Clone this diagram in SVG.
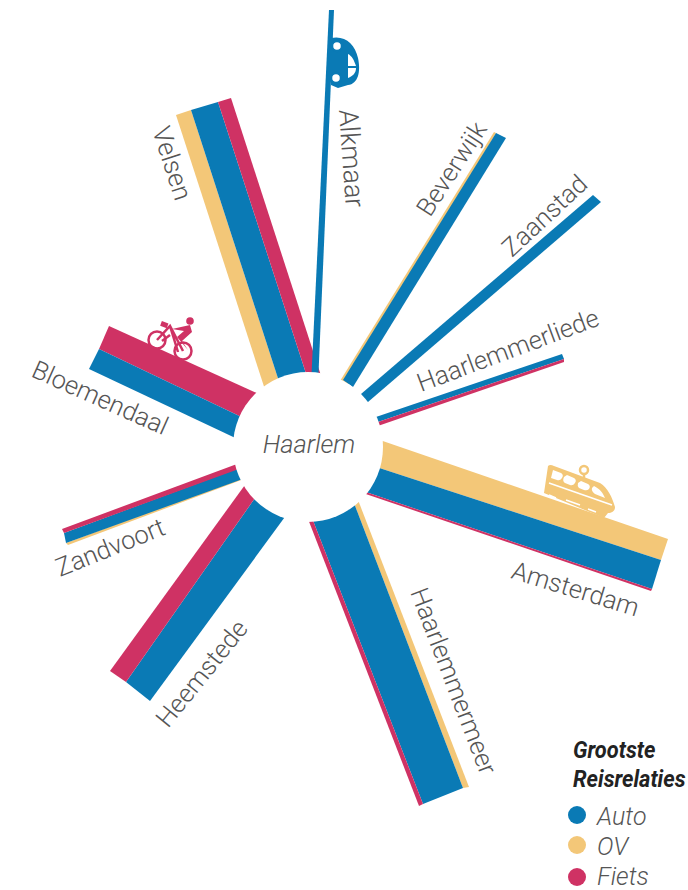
<svg xmlns="http://www.w3.org/2000/svg" width="688" height="890" viewBox="0 0 688 890">
<style>
.a{fill:#0a7ab5}.o{fill:#f3c778}.f{fill:#cf3264}
text{font-family:Roboto,"Liberation Sans",sans-serif;font-weight:300;fill:#555}
.l{font-size:25.5px}
.i{font-style:italic}
.t{font-weight:700;fill:#222;font-size:23px}
.k{font-size:25px}
</style>
<rect width="688" height="890" fill="#fff"/>
<g id="connectors">
<polygon class="o" points="176,115 191,110 285,400 270,405"/>
<polygon class="a" points="191,110 218,102 312,392 285,400"/>
<polygon class="f" points="218,102 231,98 325,388 312,392"/>
<polygon class="a" points="329,10 334,10 318,385 311,385"/>
<polygon class="o" points="494,132 496,133 347,386 340,381"/>
<polygon class="a" points="496,133 506,138 353,387 343,380"/>
<polygon class="a" points="593,195 601,202 361,408 354,400"/>
<polygon class="a" points="562,354 564,359 372,424 370,419"/>
<polygon class="f" points="564,359 564,362 372,428 372,424"/>
<polygon class="o" points="668,539 661,560 364,463 374,438"/>
<polygon class="a" points="661,560 652,589 354,488 364,463"/>
<polygon class="f" points="652,589 651,591 354,490 354,488"/>
<polygon class="o" points="469,787 463,788 349,490 353,487"/>
<polygon class="a" points="463,788 423,804 307,505 349,490"/>
<polygon class="f" points="423,804 419,806 303,506 307,505"/>
<polygon class="a" points="126,682 150,701 290,510 262,488"/>
<polygon class="f" points="110,671 126,682 262,488 250,478"/>
<polygon class="o" points="66,543 68,545 252,476 251,474"/>
<polygon class="a" points="64,533 66,543 251,476 247,465"/>
<polygon class="f" points="62,529 64,533 247,466 245,461"/>
<polygon class="f" points="109,326 99,349 254,423 270,399"/>
<polygon class="a" points="99,349 89,369 246,443 254,423"/>
</g>
<g id="haarlem">
<circle cx="308" cy="447" r="75" fill="#fff"/>
<text class="i" x="309" y="453" text-anchor="middle" style="font-size:25.5px">Haarlem</text>
</g>
<g id="alkmaar"><text class="l" transform="translate(339,110) rotate(86)" style="font-size:27px">Alkmaar</text>
<g id="car-icon">
<path class="a" d="M331,38 C345,35 355,44 358,58 C361,72 358,84 348,85 L338,88 L331,85 Z"/>
<path fill="#fff" d="M348,54 C352,56 354,60 356,66 L348,66 Z M348,68 L356,68 C356,73 353,76 348,78 Z"/>
<circle cx="337" cy="46" r="5" fill="#fff" stroke="#0a7ab5" stroke-width="2.5"/>
<circle cx="336" cy="78" r="5" fill="#fff" stroke="#0a7ab5" stroke-width="2.5"/>
</g></g>
<g id="velsen"><text class="l" transform="translate(152,130) rotate(72)" style="font-size:26px">Velsen</text></g>
<g id="beverwijk"><text class="l" transform="translate(430,218) rotate(-57)">Beverwijk</text></g>
<g id="zaanstad"><text class="l" transform="translate(512,258) rotate(-43)">Zaanstad</text></g>
<g id="haarlemmerliede"><text class="l" transform="translate(421,392) rotate(-20.5)">Haarlemmerliede</text></g>
<g id="amsterdam"><text class="l" transform="translate(510,578) rotate(17)">Amsterdam</text>
<g id="train-icon">
<path class="o" d="M548,466 Q550,464 554,466 L600,483 C608,488 612,497 615,507 C615,511 612,513 608,513 L604,518 L544,493 Z"/>
<circle cx="584" cy="470" r="4" fill="#fff" stroke="#f3c778" stroke-width="2.5"/>
<path d="M584,474 L584,478" stroke="#f3c778" stroke-width="2.5"/>
<path fill="#fff" d="M553,470 L561,473 Q564,475 562,478 Q560,481 557,480 L551,478 Z M567,475 L574,478 Q577,480 575,483 Q573,486 570,485 L565,483 Q562,481 564,477 Z M581,481 L588,484 Q591,486 589,489 Q587,491 584,490 L579,488 Q577,486 578,483 Z M594,486 C600,489 603,493 605,498 L595,494 Q591,491 592,488 Z"/>
<path d="M549,483 L612,505" stroke="#fff" stroke-width="1.5" fill="none"/>
<path d="M549,495 L556,498 M566,500 L580,505 M588,509 L596,512" stroke="#fff" stroke-width="1.5" fill="none"/>
</g></g>
<g id="haarlemmermeer"><text class="l" transform="translate(410,592) rotate(69)">Haarlemmermeer</text></g>
<g id="heemstede"><text class="l" transform="translate(168,729) rotate(-51)">Heemstede</text></g>
<g id="zandvoort"><text class="l" transform="translate(60,577) rotate(-22)">Zandvoort</text></g>
<g id="bloemendaal"><text class="l" transform="translate(30,376) rotate(24)">Bloemendaal</text>
<g id="bike-icon" stroke="#cf3264" fill="none" stroke-width="2.5">
<circle cx="157" cy="340" r="8.5"/>
<circle cx="183" cy="351" r="8.5"/>
<path d="M157,340 L170,326 L183,351 M170,326 L178,352 M170,335 L162,341"/>
<circle cx="190" cy="321" r="3.8" fill="#cf3264" stroke="none"/>
<path d="M190,325 L192,332 L182,341 L188,350 L177,337 L184,331 L172,329 Z" fill="#cf3264" stroke="none"/>
<rect x="161" y="322" width="7" height="5" fill="#cf3264" stroke="none" transform="rotate(20 164 324)"/>
</g></g>
<g id="legend">
<text class="i t" transform="translate(573,758) scale(.95,1)">Grootste</text>
<text class="i t" transform="translate(573,787) scale(.95,1)">Reisrelaties</text>
<circle class="a" cx="577" cy="815" r="9"/><text class="i k" x="597" y="825">Auto</text>
<circle class="o" cx="577" cy="845" r="9"/><text class="i k" x="597" y="855">OV</text>
<circle class="f" cx="577" cy="877" r="9"/><text class="i k" x="597" y="885">Fiets</text>
</g>
</svg>
